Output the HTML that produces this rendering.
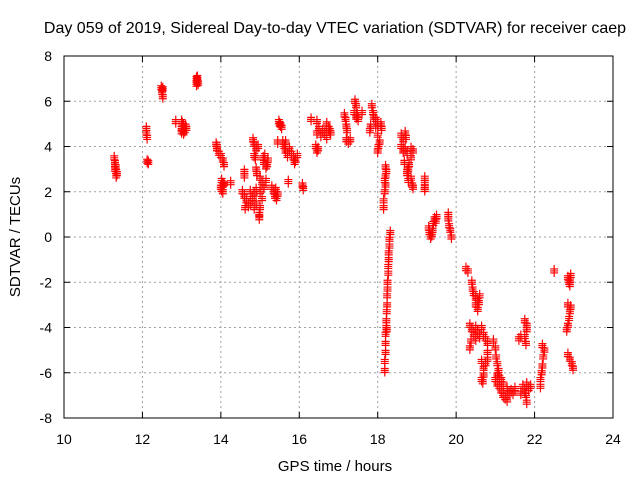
<!DOCTYPE html>
<html><head><meta charset="utf-8"><style>
body{margin:0;background:#fff;}
svg{display:block;font-family:"Liberation Sans",sans-serif;}
</style></head><body>
<svg id="chart" width="640" height="480">
<text x="335" y="33" font-size="16" text-anchor="middle">Day 059 of 2019, Sidereal Day-to-day VTEC variation (SDTVAR) for receiver caep</text>
<text x="0" y="0" font-size="15" text-anchor="middle" transform="translate(20,237) rotate(-90)">SDTVAR / TECUs</text>
<text x="335" y="471" font-size="15" text-anchor="middle">GPS time / hours</text>
<g id="grid"></g>
<g id="ticks"></g>
<g id="marks"></g>
<rect x="64" y="56" width="549" height="362" fill="none" stroke="#000" stroke-width="1"/>
</svg>
<script>
const xTicks=[10,12,14,16,18,20,22,24];
const yTicks=[-8,-6,-4,-2,0,2,4,6,8];
const times=[11.28,11.3,11.32,11.3,11.33,11.35,11.3,11.33,
12.1,12.1,12.12,12.12,12.15,
12.48,12.5,12.52,12.5,12.52,
13.38,13.4,13.42,13.4,13.38,
12.85,13.0,13.02,13.05,13.0,13.08,13.1,13.05,13.12,13.0,
13.88,13.9,13.95,13.9,14.0,14.05,14.08,14.02,14.05,14.0,14.08,14.02,14.05,14.25,
14.6,14.6,14.55,14.6,14.65,14.7,14.62,14.75,14.8,14.85,14.9,14.75,14.9,14.85,
14.82,14.85,14.9,14.85,14.88,14.95,14.9,14.92,15.0,15.05,15.0,15.05,15.0,14.98,14.98,15.1,15.15,
15.08,15.1,15.15,15.2,15.12,15.18,
15.3,15.35,15.38,15.42,15.45,15.4,
15.48,15.52,15.55,15.5,
15.58,15.62,15.65,15.7,15.75,15.8,15.85,15.9,15.95,15.88,15.72,15.45,15.65,
16.08,16.1,
16.3,16.45,16.5,16.45,16.55,16.6,16.42,16.45,16.48,
16.7,16.75,16.8,16.7,16.78,16.65,
17.15,17.18,17.2,17.22,17.2,17.25,17.3,
17.42,17.45,17.4,17.45,17.5,17.48,17.6,
17.85,17.88,17.9,17.95,18.0,17.95,17.82,17.8,18.0,18.05,18.02,18.0,18.08,18.1,
18.2,18.22,18.2,18.18,18.2,18.18,18.15,18.15,
18.32,18.3,18.3,18.28,18.28,18.27,18.27,18.25,18.25,18.24,18.24,18.23,18.22,18.22,18.2,18.2,18.2,18.18,18.18,18.23,
18.6,18.65,18.7,18.72,18.6,18.65,18.7,18.75,18.68,
18.85,18.9,18.85,18.8,18.78,18.75,18.78,18.85,18.88,18.9,18.75,
19.2,19.2,19.2,19.2,
19.3,19.32,19.35,19.4,19.42,19.45,19.5,19.48,19.38,
19.8,19.8,19.82,19.85,19.88,
20.25,20.3,
20.4,20.42,20.45,20.5,20.55,20.5,20.55,20.6,20.58,
20.35,20.4,20.45,20.5,20.55,20.6,20.65,20.7,20.75,20.38,20.35,20.5,20.8,20.8,
20.65,20.7,20.75,20.8,20.7,20.65,20.68,
20.95,21.0,21.02,21.05,21.08,21.1,21.0,21.05,21.1,21.15,21.2,21.25,21.3,21.2,21.3,21.35,21.4,21.5,21.45,21.05,21.15,
21.6,21.65,
21.75,21.8,21.8,21.75,21.78,21.7,21.75,21.8,21.85,21.78,21.8,21.9,21.65,
22.2,22.25,22.22,22.2,22.18,22.15,22.15,
22.5,
22.85,22.9,22.88,22.92,22.9,22.85,22.9,22.88,22.92,22.85,22.82,22.85,22.9,22.95,22.98];
const values=[3.5,3.3,3.1,3.0,2.9,2.8,3.2,2.7,
4.8,4.6,4.4,3.35,3.3,
6.6,6.5,6.55,6.4,6.2,
7.0,6.9,6.8,7.05,6.75,
5.1,5.1,5.0,4.9,4.8,4.7,4.9,4.6,4.8,4.65,
4.1,3.9,3.7,4.0,3.6,3.4,3.2,2.5,2.3,2.2,2.35,2.1,2.0,2.4,
2.9,2.7,2.0,1.8,1.6,1.4,1.3,1.5,1.7,1.9,2.1,2.0,1.5,1.3,
4.3,4.1,3.9,3.6,3.5,4.0,3.0,2.8,2.6,2.4,2.0,1.7,1.3,1.0,0.85,2.2,2.5,
3.5,3.3,3.1,3.4,3.6,3.2,
2.2,2.0,1.8,1.7,1.9,2.1,
5.1,4.95,4.85,5.0,
4.2,4.0,3.8,3.6,3.9,3.7,3.5,3.4,3.6,3.3,2.45,4.2,4.2,
2.3,2.15,
5.2,5.1,4.8,4.6,4.5,4.7,4.0,3.8,3.9,
5.0,4.8,4.6,4.4,4.7,4.6,
5.4,5.2,4.9,4.7,4.3,4.2,4.3,
6.0,5.8,5.5,5.3,5.2,5.4,5.5,
5.8,5.5,5.3,5.2,5.0,4.9,4.9,4.7,4.5,4.2,4.0,3.8,5.0,4.8,
3.1,2.9,2.7,2.5,2.3,2.0,1.6,1.3,
0.2,-0.1,-0.4,-0.7,-1.0,-1.3,-1.6,-2.0,-2.3,-2.6,-3.0,-3.3,-3.7,-4.0,-4.3,-4.7,-5.1,-5.5,-5.9,-4.1,
4.5,4.3,4.6,4.4,4.0,3.8,3.9,3.7,3.3,
3.9,3.8,3.5,3.2,3.0,2.8,2.5,2.6,2.3,2.2,2.9,
2.6,2.4,2.2,2.1,
0.4,0.2,0.0,0.3,0.6,0.8,0.9,0.7,0.1,
1.0,0.8,0.5,0.3,0.0,
-1.4,-1.5,
-2.0,-2.3,-2.5,-2.7,-2.8,-3.0,-3.2,-2.6,-2.9,
-3.9,-4.1,-4.3,-4.0,-4.2,-4.4,-4.0,-4.3,-4.5,-4.6,-4.9,-4.5,-4.7,-5.1,
-5.5,-5.8,-5.6,-5.4,-6.1,-6.3,-6.4,
-4.6,-4.9,-5.3,-5.6,-5.9,-6.2,-6.3,-6.5,-6.6,-6.8,-7.0,-7.1,-7.2,-6.5,-6.7,-6.9,-6.8,-6.7,-6.9,-6.1,-6.3,
-4.5,-4.4,
-3.7,-3.9,-4.1,-4.4,-4.7,-6.6,-6.8,-6.5,-6.7,-7.0,-7.3,-6.6,-6.9,
-4.8,-5.0,-5.3,-5.7,-6.0,-6.3,-6.6,
-1.5,
-1.8,-1.9,-2.0,-1.7,-2.1,-3.0,-3.3,-3.6,-3.1,-3.9,-4.1,-5.2,-5.4,-5.6,-5.8];
const X0=64,X1=613,Y0=418,Y1=56;
const xs=v=>X0+(v-10)/14*(X1-X0);
const ys=v=>Y0-(v+8)/16*(Y0-Y1);
const NS="http://www.w3.org/2000/svg";
const grid=document.getElementById('grid'),ticks=document.getElementById('ticks'),marks=document.getElementById('marks');
function mk(tag,a,parent){const e=document.createElementNS(NS,tag);for(const k in a)e.setAttribute(k,a[k]);parent.appendChild(e);return e;}
xTicks.forEach(t=>{const x=xs(t);
 if(t>10&&t<24){const g=mk('line',{x1:x,x2:x,y1:Y1,y2:Y0,stroke:'#a0a0a0','stroke-dasharray':'2,3'},grid);
 
 }
 mk('line',{x1:x,x2:x,y1:Y0,y2:Y0-6,stroke:'#000'},ticks);
 mk('line',{x1:x,x2:x,y1:Y1,y2:Y1+6,stroke:'#000'},ticks);
 const l=mk('text',{x:x,y:444,'font-size':'14','text-anchor':'middle'},ticks);l.textContent=t;
 
 });
yTicks.forEach(t=>{const y=ys(t);
 if(t>-8&&t<8){const g=mk('line',{x1:X0,x2:X1,y1:y,y2:y,stroke:'#a0a0a0','stroke-dasharray':'2,3'},grid);
 
 }
 mk('line',{x1:X0,x2:X0+6,y1:y,y2:y,stroke:'#000'},ticks);
 mk('line',{x1:X1,x2:X1-6,y1:y,y2:y,stroke:'#000'},ticks);
 const l=mk('text',{x:52,y:y+5,'font-size':'14','text-anchor':'end'},ticks);l.textContent=t;
 
 });
times.forEach((t,i)=>{const x=xs(t),y=ys(values[i]);
 let d='';
 [0,2,-2].forEach(o=>{const b=y+o;d+=`M${x-4},${b}h8M${x},${b-4}v8`;});
 const p=mk('path',{d:d,stroke:'#ff0000','stroke-width':'1.2'},marks);
 
 });
</script>
</body></html>
